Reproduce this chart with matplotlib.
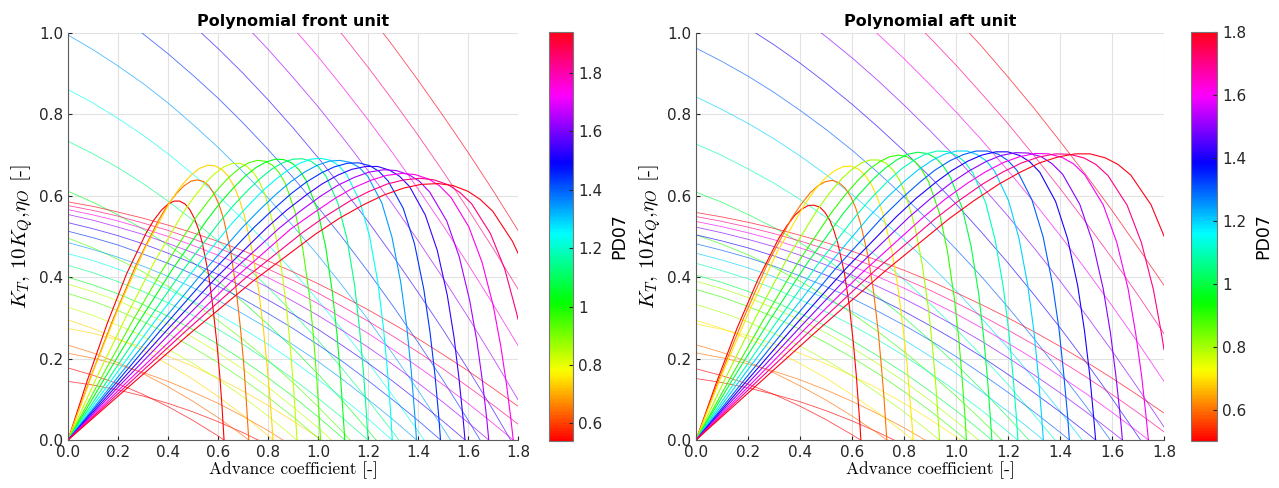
import numpy as np
import matplotlib
matplotlib.use('Agg')
import matplotlib.pyplot as plt
from matplotlib.colors import Normalize
from matplotlib.cm import ScalarMappable
from matplotlib.ticker import FuncFormatter

plt.rcParams['mathtext.fontset'] = 'cm'

# advance coefficient grid used for the thrust and torque curves
J_grid = [0.0, 0.1, 0.2, 0.3, 0.4, 0.5, 0.6, 0.7, 0.8, 0.9,
          1.0, 1.1, 1.2, 1.3, 1.4, 1.5, 1.6, 1.7, 1.8]

# ---------------- front unit ----------------
pd_front = [0.54, 0.64, 0.74, 0.84, 0.94, 1.04, 1.14, 1.24, 1.34, 1.44, 1.54, 1.64, 1.74, 1.84, 1.94]

kt_front = [
    [0.177, 0.159, 0.138, 0.112, 0.082, 0.048, 0.010, -0.032],
    [0.233, 0.214, 0.190, 0.163, 0.131, 0.095, 0.055, 0.011, -0.038],
    [0.295, 0.274, 0.249, 0.220, 0.186, 0.149, 0.107, 0.061, 0.011, -0.044],
    [0.326, 0.306, 0.282, 0.255, 0.223, 0.188, 0.149, 0.106, 0.059, 0.008, -0.046],
    [0.360, 0.341, 0.318, 0.291, 0.261, 0.227, 0.190, 0.149, 0.105, 0.057, 0.005, -0.050],
    [0.400, 0.381, 0.359, 0.333, 0.304, 0.271, 0.235, 0.196, 0.153, 0.107, 0.057, 0.004, -0.053],
    [0.429, 0.411, 0.389, 0.365, 0.337, 0.306, 0.272, 0.235, 0.194, 0.150, 0.103, 0.053, 0.000, -0.056],
    [0.458, 0.441, 0.420, 0.397, 0.370, 0.341, 0.309, 0.273, 0.235, 0.194, 0.149, 0.102, 0.052, -0.002],
    [0.485, 0.468, 0.449, 0.427, 0.402, 0.374, 0.343, 0.310, 0.274, 0.234, 0.193, 0.148, 0.100, 0.050, -0.003],
    [0.513, 0.497, 0.479, 0.457, 0.434, 0.407, 0.378, 0.346, 0.311, 0.274, 0.234, 0.192, 0.146, 0.098, 0.048, -0.005],
    [0.534, 0.519, 0.502, 0.482, 0.459, 0.434, 0.407, 0.377, 0.344, 0.309, 0.272, 0.231, 0.189, 0.144, 0.096, 0.046, -0.006],
    [0.554, 0.540, 0.523, 0.505, 0.483, 0.460, 0.434, 0.405, 0.375, 0.341, 0.306, 0.268, 0.228, 0.185, 0.140, 0.093, 0.043, -0.009],
    [0.566, 0.553, 0.538, 0.520, 0.500, 0.478, 0.454, 0.427, 0.399, 0.368, 0.335, 0.299, 0.262, 0.222, 0.180, 0.136, 0.090, 0.041, -0.010],
    [0.576, 0.564, 0.550, 0.533, 0.515, 0.494, 0.472, 0.447, 0.420, 0.392, 0.361, 0.327, 0.292, 0.255, 0.216, 0.175, 0.131, 0.086, 0.039],
    [0.585, 0.574, 0.560, 0.545, 0.528, 0.509, 0.488, 0.465, 0.440, 0.413, 0.384, 0.353, 0.320, 0.285, 0.249, 0.210, 0.170, 0.127, 0.083],
]

kq10_front = [
    [0.144, 0.135, 0.123, 0.108, 0.090, 0.069, 0.045, 0.018, -0.012],
    [0.213, 0.201, 0.185, 0.166, 0.144, 0.118, 0.090, 0.058, 0.023, -0.016],
    [0.274, 0.262, 0.246, 0.228, 0.206, 0.181, 0.152, 0.120, 0.085, 0.047, 0.006, -0.039],
    [0.383, 0.364, 0.342, 0.315, 0.285, 0.252, 0.215, 0.174, 0.130, 0.081, 0.030, -0.026],
    [0.496, 0.472, 0.444, 0.413, 0.377, 0.338, 0.294, 0.247, 0.196, 0.141, 0.082, 0.019, -0.048],
    [0.611, 0.584, 0.553, 0.518, 0.479, 0.436, 0.390, 0.339, 0.284, 0.225, 0.162, 0.095, 0.024, -0.050],
    [0.734, 0.703, 0.669, 0.630, 0.587, 0.540, 0.489, 0.434, 0.375, 0.312, 0.245, 0.173, 0.098, 0.019, -0.065],
    [0.861, 0.828, 0.790, 0.749, 0.703, 0.653, 0.600, 0.542, 0.480, 0.414, 0.343, 0.269, 0.191, 0.108, 0.022, -0.069],
    [0.995, 0.959, 0.919, 0.876, 0.828, 0.775, 0.719, 0.659, 0.595, 0.526, 0.454, 0.377, 0.296, 0.211, 0.122, 0.029, -0.068],
    [1.120, 1.083, 1.043, 0.998, 0.949, 0.896, 0.840, 0.779, 0.714, 0.645, 0.572, 0.495, 0.414, 0.329, 0.240, 0.147, 0.049, -0.052],
    [1.245, 1.208, 1.166, 1.121, 1.072, 1.019, 0.962, 0.901, 0.836, 0.767, 0.694, 0.617, 0.537, 0.452, 0.363, 0.271, 0.174, 0.074, -0.031],
    [1.370, 1.332, 1.291, 1.245, 1.196, 1.143, 1.086, 1.025, 0.960, 0.891, 0.819, 0.742, 0.662, 0.578, 0.490, 0.398, 0.302, 0.202, 0.099],
    [1.490, 1.452, 1.410, 1.365, 1.316, 1.263, 1.206, 1.146, 1.081, 1.013, 0.942, 0.866, 0.787, 0.704, 0.617, 0.527, 0.432, 0.334, 0.232],
    [1.610, 1.572, 1.531, 1.486, 1.437, 1.385, 1.329, 1.269, 1.206, 1.139, 1.068, 0.994, 0.916, 0.834, 0.749, 0.660, 0.567, 0.471, 0.371],
    [1.730, 1.693, 1.652, 1.607, 1.559, 1.508, 1.453, 1.394, 1.332, 1.266, 1.197, 1.124, 1.048, 0.968, 0.884, 0.797, 0.707, 0.613, 0.515],
]

# efficiency curves, sampled more densely around the peak and where KT reaches zero
eta_J_front = [
    [0, 0.078, 0.156, 0.234, 0.312, 0.343, 0.374, 0.399, 0.424, 0.446, 0.468, 0.487, 0.505, 0.521, 0.537, 0.562, 0.580, 0.596, 0.607, 0.615, 0.621, 0.624],
    [0, 0.090, 0.181, 0.271, 0.362, 0.398, 0.434, 0.463, 0.492, 0.517, 0.542, 0.564, 0.586, 0.604, 0.622, 0.651, 0.672, 0.690, 0.703, 0.712, 0.719, 0.723],
    [0, 0.102, 0.205, 0.308, 0.410, 0.451, 0.492, 0.525, 0.558, 0.586, 0.615, 0.640, 0.664, 0.685, 0.705, 0.738, 0.763, 0.783, 0.797, 0.808, 0.816, 0.820],
    [0, 0.114, 0.229, 0.344, 0.458, 0.504, 0.550, 0.586, 0.623, 0.655, 0.687, 0.714, 0.742, 0.765, 0.788, 0.824, 0.852, 0.875, 0.890, 0.902, 0.911, 0.916],
    [0, 0.126, 0.252, 0.379, 0.505, 0.556, 0.606, 0.646, 0.687, 0.722, 0.758, 0.788, 0.818, 0.843, 0.869, 0.909, 0.939, 0.965, 0.982, 0.995, 1.005, 1.010],
    [0, 0.138, 0.277, 0.415, 0.554, 0.609, 0.664, 0.708, 0.753, 0.792, 0.830, 0.863, 0.897, 0.924, 0.952, 0.997, 1.030, 1.057, 1.076, 1.090, 1.101, 1.107],
    [0, 0.150, 0.300, 0.450, 0.600, 0.660, 0.720, 0.768, 0.816, 0.858, 0.900, 0.936, 0.972, 1.002, 1.032, 1.080, 1.116, 1.146, 1.166, 1.182, 1.194, 1.200],
    [0, 0.162, 0.324, 0.486, 0.648, 0.713, 0.778, 0.830, 0.882, 0.927, 0.973, 1.012, 1.051, 1.083, 1.115, 1.167, 1.206, 1.239, 1.261, 1.278, 1.291, 1.297],
    [0, 0.174, 0.348, 0.523, 0.697, 0.767, 0.836, 0.892, 0.948, 0.997, 1.045, 1.087, 1.129, 1.164, 1.199, 1.255, 1.296, 1.331, 1.355, 1.373, 1.387, 1.394],
    [0, 0.186, 0.372, 0.559, 0.745, 0.820, 0.894, 0.954, 1.013, 1.065, 1.118, 1.162, 1.207, 1.244, 1.281, 1.341, 1.386, 1.423, 1.448, 1.468, 1.483, 1.490],
    [0, 0.198, 0.397, 0.596, 0.794, 0.873, 0.953, 1.016, 1.080, 1.135, 1.191, 1.239, 1.286, 1.326, 1.366, 1.429, 1.477, 1.517, 1.544, 1.564, 1.580, 1.588],
    [0, 0.210, 0.421, 0.631, 0.842, 0.926, 1.010, 1.077, 1.144, 1.203, 1.262, 1.313, 1.363, 1.405, 1.447, 1.515, 1.565, 1.607, 1.636, 1.658, 1.675, 1.683],
    [0, 0.223, 0.445, 0.668, 0.890, 0.980, 1.069, 1.140, 1.211, 1.273, 1.336, 1.389, 1.443, 1.487, 1.532, 1.603, 1.656, 1.701, 1.731, 1.754, 1.772, 1.781],
    [0, 0.235, 0.470, 0.704, 0.939, 1.033, 1.127, 1.202, 1.277, 1.343, 1.408, 1.465, 1.521, 1.568, 1.615, 1.690, 1.747, 1.793, 1.800],
    [0, 0.247, 0.494, 0.741, 0.988, 1.086, 1.185, 1.264, 1.343, 1.412, 1.481, 1.541, 1.600, 1.649, 1.699, 1.778, 1.800],
]

eta_front = [
    [0, 0.148, 0.285, 0.408, 0.508, 0.540, 0.565, 0.579, 0.587, 0.587, 0.580, 0.566, 0.545, 0.519, 0.485, 0.407, 0.324, 0.234, 0.158, 0.091, 0.032, 0],
    [0, 0.154, 0.298, 0.429, 0.540, 0.577, 0.606, 0.624, 0.636, 0.639, 0.635, 0.624, 0.603, 0.578, 0.544, 0.462, 0.373, 0.273, 0.186, 0.107, 0.038, 0],
    [0, 0.171, 0.329, 0.471, 0.587, 0.623, 0.651, 0.667, 0.675, 0.674, 0.665, 0.649, 0.623, 0.592, 0.552, 0.461, 0.367, 0.264, 0.178, 0.101, 0.036, 0],
    [0, 0.153, 0.299, 0.436, 0.556, 0.597, 0.632, 0.654, 0.671, 0.679, 0.680, 0.673, 0.657, 0.635, 0.603, 0.523, 0.430, 0.320, 0.222, 0.130, 0.047, 0],
    [0, 0.145, 0.286, 0.419, 0.541, 0.583, 0.621, 0.647, 0.668, 0.681, 0.687, 0.685, 0.675, 0.658, 0.631, 0.559, 0.470, 0.358, 0.253, 0.151, 0.055, 0],
    [0, 0.143, 0.284, 0.417, 0.539, 0.583, 0.621, 0.648, 0.670, 0.683, 0.690, 0.689, 0.680, 0.664, 0.638, 0.567, 0.477, 0.365, 0.259, 0.155, 0.057, 0],
    [0, 0.139, 0.276, 0.409, 0.531, 0.575, 0.614, 0.642, 0.666, 0.681, 0.690, 0.691, 0.685, 0.671, 0.648, 0.581, 0.494, 0.382, 0.274, 0.165, 0.061, 0],
    [0, 0.137, 0.273, 0.405, 0.527, 0.571, 0.612, 0.640, 0.664, 0.680, 0.690, 0.692, 0.687, 0.674, 0.652, 0.587, 0.501, 0.389, 0.280, 0.169, 0.063, 0],
    [0, 0.135, 0.270, 0.400, 0.522, 0.566, 0.606, 0.635, 0.659, 0.675, 0.685, 0.687, 0.682, 0.670, 0.648, 0.583, 0.498, 0.387, 0.278, 0.169, 0.062, 0],
    [0, 0.136, 0.271, 0.402, 0.523, 0.566, 0.606, 0.634, 0.656, 0.671, 0.680, 0.681, 0.674, 0.660, 0.636, 0.569, 0.482, 0.371, 0.265, 0.159, 0.058, 0],
    [0, 0.136, 0.271, 0.401, 0.521, 0.564, 0.602, 0.629, 0.651, 0.665, 0.672, 0.672, 0.663, 0.648, 0.623, 0.553, 0.466, 0.356, 0.253, 0.151, 0.055, 0],
    [0, 0.136, 0.270, 0.400, 0.519, 0.561, 0.599, 0.625, 0.645, 0.658, 0.664, 0.662, 0.652, 0.636, 0.609, 0.538, 0.450, 0.342, 0.241, 0.143, 0.052, 0],
    [0, 0.135, 0.265, 0.398, 0.518, 0.557, 0.594, 0.619, 0.638, 0.650, 0.655, 0.652, 0.641, 0.624, 0.596, 0.524, 0.437, 0.330, 0.231, 0.137, 0.049, 0],
    [0, 0.134, 0.267, 0.395, 0.510, 0.551, 0.587, 0.610, 0.629, 0.639, 0.643, 0.639, 0.627, 0.608, 0.580, 0.507, 0.420, 0.315, 0.297],
    [0, 0.133, 0.265, 0.391, 0.505, 0.545, 0.579, 0.602, 0.619, 0.628, 0.630, 0.625, 0.611, 0.591, 0.562, 0.488, 0.459],
]

# ---------------- aft unit ----------------
pd_aft = [0.5, 0.6, 0.7, 0.8, 0.9, 1.0, 1.1, 1.2, 1.3, 1.4, 1.5, 1.6, 1.7, 1.8]

kt_aft = [
    [0.175, 0.158, 0.137, 0.112, 0.083, 0.050, 0.013, -0.027],
    [0.234, 0.215, 0.192, 0.165, 0.133, 0.098, 0.059, 0.016, -0.032],
    [0.294, 0.274, 0.249, 0.221, 0.188, 0.152, 0.111, 0.067, 0.018, -0.035],
    [0.333, 0.313, 0.290, 0.262, 0.231, 0.196, 0.158, 0.115, 0.069, 0.019, -0.034],
    [0.370, 0.351, 0.328, 0.302, 0.272, 0.239, 0.203, 0.163, 0.119, 0.072, 0.021, -0.033],
    [0.405, 0.387, 0.365, 0.340, 0.311, 0.280, 0.245, 0.206, 0.165, 0.120, 0.072, 0.020, -0.034],
    [0.434, 0.416, 0.396, 0.372, 0.345, 0.315, 0.282, 0.246, 0.207, 0.165, 0.120, 0.072, 0.020, -0.034],
    [0.459, 0.442, 0.423, 0.401, 0.375, 0.347, 0.316, 0.282, 0.246, 0.206, 0.164, 0.118, 0.070, 0.019, -0.035],
    [0.482, 0.466, 0.448, 0.427, 0.403, 0.377, 0.348, 0.316, 0.282, 0.245, 0.205, 0.162, 0.117, 0.069, 0.019, -0.034],
    [0.504, 0.489, 0.472, 0.452, 0.430, 0.405, 0.378, 0.348, 0.316, 0.281, 0.244, 0.204, 0.161, 0.116, 0.069, 0.019, -0.033],
    [0.523, 0.509, 0.493, 0.475, 0.454, 0.430, 0.405, 0.377, 0.347, 0.314, 0.279, 0.242, 0.202, 0.160, 0.116, 0.069, 0.020, -0.031],
    [0.537, 0.524, 0.509, 0.492, 0.472, 0.451, 0.427, 0.401, 0.373, 0.342, 0.310, 0.275, 0.238, 0.199, 0.157, 0.114, 0.068, 0.020, -0.030],
    [0.549, 0.537, 0.523, 0.507, 0.489, 0.469, 0.447, 0.422, 0.396, 0.368, 0.337, 0.305, 0.270, 0.234, 0.195, 0.155, 0.112, 0.067, 0.020],
    [0.559, 0.548, 0.535, 0.520, 0.503, 0.485, 0.464, 0.441, 0.417, 0.391, 0.362, 0.332, 0.300, 0.266, 0.230, 0.192, 0.152, 0.110, 0.066],
]

kq10_aft = [
    [0.151, 0.141, 0.128, 0.112, 0.094, 0.072, 0.047, 0.019, -0.012],
    [0.214, 0.202, 0.187, 0.169, 0.148, 0.123, 0.095, 0.064, 0.030, -0.007],
    [0.285, 0.272, 0.256, 0.236, 0.213, 0.187, 0.158, 0.126, 0.090, 0.051, 0.008, -0.038],
    [0.390, 0.372, 0.350, 0.324, 0.295, 0.263, 0.227, 0.187, 0.144, 0.097, 0.046, -0.007],
    [0.504, 0.481, 0.455, 0.424, 0.390, 0.353, 0.311, 0.266, 0.217, 0.164, 0.108, 0.048, -0.016],
    [0.609, 0.584, 0.554, 0.522, 0.485, 0.444, 0.400, 0.352, 0.301, 0.245, 0.186, 0.123, 0.056, -0.014],
    [0.727, 0.699, 0.666, 0.631, 0.591, 0.547, 0.500, 0.449, 0.394, 0.335, 0.273, 0.206, 0.136, 0.062, -0.015],
    [0.843, 0.812, 0.778, 0.740, 0.698, 0.652, 0.603, 0.549, 0.492, 0.431, 0.367, 0.298, 0.226, 0.150, 0.071, -0.013],
    [0.963, 0.930, 0.894, 0.854, 0.810, 0.763, 0.712, 0.657, 0.598, 0.536, 0.469, 0.400, 0.326, 0.249, 0.167, 0.083, -0.006],
    [1.083, 1.049, 1.012, 0.971, 0.926, 0.877, 0.825, 0.769, 0.710, 0.647, 0.580, 0.509, 0.435, 0.357, 0.276, 0.191, 0.102, 0.009, -0.087],
    [1.200, 1.165, 1.127, 1.086, 1.040, 0.991, 0.939, 0.883, 0.823, 0.760, 0.694, 0.623, 0.550, 0.472, 0.391, 0.307, 0.219, 0.127, 0.032],
    [1.320, 1.284, 1.245, 1.202, 1.156, 1.107, 1.054, 0.997, 0.937, 0.873, 0.806, 0.736, 0.662, 0.584, 0.503, 0.418, 0.330, 0.239, 0.144],
    [1.440, 1.403, 1.363, 1.320, 1.273, 1.223, 1.169, 1.112, 1.052, 0.988, 0.921, 0.850, 0.777, 0.699, 0.618, 0.534, 0.447, 0.356, 0.261],
    [1.560, 1.522, 1.482, 1.438, 1.390, 1.339, 1.285, 1.228, 1.167, 1.104, 1.036, 0.966, 0.892, 0.815, 0.734, 0.651, 0.564, 0.473, 0.380],
]

eta_J_aft = [
    [0, 0.079, 0.158, 0.238, 0.317, 0.349, 0.380, 0.406, 0.431, 0.453, 0.476, 0.495, 0.514, 0.529, 0.545, 0.571, 0.590, 0.605, 0.616, 0.624, 0.631, 0.634],
    [0, 0.092, 0.184, 0.275, 0.367, 0.404, 0.440, 0.470, 0.499, 0.525, 0.550, 0.573, 0.595, 0.613, 0.631, 0.661, 0.683, 0.701, 0.713, 0.723, 0.730, 0.734],
    [0, 0.104, 0.209, 0.313, 0.418, 0.459, 0.501, 0.534, 0.568, 0.597, 0.626, 0.651, 0.676, 0.697, 0.718, 0.752, 0.777, 0.797, 0.812, 0.822, 0.831, 0.835],
    [0, 0.117, 0.234, 0.351, 0.468, 0.515, 0.562, 0.600, 0.637, 0.670, 0.703, 0.731, 0.759, 0.782, 0.806, 0.843, 0.871, 0.895, 0.911, 0.923, 0.932, 0.937],
    [0, 0.130, 0.260, 0.390, 0.520, 0.572, 0.624, 0.666, 0.707, 0.744, 0.780, 0.811, 0.842, 0.868, 0.894, 0.936, 0.967, 0.993, 1.011, 1.024, 1.035, 1.040],
    [0, 0.142, 0.284, 0.427, 0.569, 0.626, 0.683, 0.728, 0.774, 0.814, 0.853, 0.888, 0.922, 0.950, 0.979, 1.024, 1.058, 1.087, 1.106, 1.121, 1.132, 1.138],
    [0, 0.155, 0.310, 0.464, 0.619, 0.681, 0.743, 0.792, 0.842, 0.885, 0.928, 0.966, 1.003, 1.034, 1.065, 1.114, 1.151, 1.182, 1.203, 1.219, 1.232, 1.238],
    [0, 0.167, 0.334, 0.501, 0.668, 0.735, 0.802, 0.855, 0.908, 0.955, 1.002, 1.042, 1.082, 1.116, 1.149, 1.202, 1.242, 1.276, 1.299, 1.316, 1.329, 1.336],
    [0, 0.180, 0.359, 0.538, 0.718, 0.790, 0.862, 0.919, 0.976, 1.027, 1.077, 1.120, 1.163, 1.199, 1.235, 1.292, 1.335, 1.371, 1.396, 1.414, 1.429, 1.436],
    [0, 0.192, 0.384, 0.576, 0.768, 0.845, 0.922, 0.984, 1.045, 1.099, 1.153, 1.199, 1.245, 1.283, 1.322, 1.383, 1.429, 1.468, 1.494, 1.514, 1.529, 1.537],
    [0, 0.205, 0.410, 0.615, 0.820, 0.902, 0.984, 1.050, 1.115, 1.173, 1.230, 1.279, 1.328, 1.369, 1.410, 1.476, 1.525, 1.566, 1.594, 1.615, 1.632, 1.640],
    [0, 0.218, 0.435, 0.652, 0.870, 0.957, 1.044, 1.114, 1.183, 1.244, 1.305, 1.357, 1.409, 1.453, 1.496, 1.566, 1.618, 1.662, 1.691, 1.714, 1.731, 1.740],
    [0, 0.230, 0.460, 0.691, 0.921, 1.013, 1.105, 1.179, 1.253, 1.317, 1.382, 1.437, 1.492, 1.538, 1.584, 1.658, 1.713, 1.759, 1.790, 1.800],
    [0, 0.243, 0.486, 0.729, 0.972, 1.069, 1.166, 1.244, 1.322, 1.390, 1.458, 1.516, 1.575, 1.623, 1.672, 1.750, 1.800],
]

eta_aft = [
    [0, 0.142, 0.275, 0.394, 0.494, 0.526, 0.552, 0.567, 0.576, 0.577, 0.572, 0.560, 0.541, 0.517, 0.484, 0.409, 0.328, 0.239, 0.162, 0.093, 0.033, 0],
    [0, 0.156, 0.301, 0.433, 0.544, 0.579, 0.608, 0.625, 0.635, 0.638, 0.632, 0.619, 0.598, 0.572, 0.536, 0.454, 0.364, 0.265, 0.180, 0.104, 0.037, 0],
    [0, 0.167, 0.323, 0.463, 0.579, 0.616, 0.646, 0.662, 0.672, 0.673, 0.665, 0.650, 0.626, 0.596, 0.557, 0.469, 0.374, 0.270, 0.183, 0.105, 0.037, 0],
    [0, 0.157, 0.307, 0.446, 0.567, 0.608, 0.643, 0.665, 0.681, 0.688, 0.688, 0.680, 0.662, 0.639, 0.605, 0.522, 0.427, 0.317, 0.219, 0.128, 0.046, 0],
    [0, 0.150, 0.296, 0.434, 0.558, 0.601, 0.639, 0.665, 0.684, 0.696, 0.700, 0.696, 0.684, 0.664, 0.635, 0.558, 0.464, 0.350, 0.246, 0.146, 0.053, 0],
    [0, 0.150, 0.295, 0.434, 0.559, 0.603, 0.642, 0.668, 0.689, 0.702, 0.707, 0.704, 0.693, 0.674, 0.645, 0.569, 0.476, 0.360, 0.254, 0.151, 0.055, 0],
    [0, 0.147, 0.290, 0.428, 0.554, 0.599, 0.639, 0.667, 0.689, 0.703, 0.710, 0.709, 0.699, 0.683, 0.656, 0.583, 0.490, 0.375, 0.266, 0.159, 0.058, 0],
    [0, 0.145, 0.287, 0.424, 0.550, 0.596, 0.636, 0.664, 0.687, 0.702, 0.710, 0.710, 0.701, 0.686, 0.660, 0.588, 0.496, 0.380, 0.270, 0.162, 0.059, 0],
    [0, 0.143, 0.285, 0.422, 0.548, 0.593, 0.634, 0.663, 0.686, 0.701, 0.710, 0.710, 0.702, 0.687, 0.662, 0.590, 0.499, 0.383, 0.273, 0.164, 0.060, 0],
    [0, 0.143, 0.284, 0.421, 0.547, 0.593, 0.633, 0.662, 0.685, 0.700, 0.708, 0.708, 0.699, 0.684, 0.658, 0.586, 0.495, 0.379, 0.269, 0.161, 0.059, 0],
    [0, 0.143, 0.284, 0.422, 0.548, 0.593, 0.633, 0.661, 0.684, 0.699, 0.706, 0.705, 0.696, 0.679, 0.653, 0.579, 0.487, 0.372, 0.263, 0.157, 0.057, 0],
    [0, 0.142, 0.283, 0.419, 0.545, 0.591, 0.631, 0.659, 0.682, 0.696, 0.704, 0.703, 0.694, 0.678, 0.651, 0.578, 0.486, 0.371, 0.262, 0.157, 0.057, 0],
    [0, 0.141, 0.281, 0.418, 0.544, 0.589, 0.630, 0.658, 0.681, 0.695, 0.703, 0.702, 0.693, 0.677, 0.650, 0.577, 0.485, 0.370, 0.262, 0.222],
    [0, 0.140, 0.280, 0.416, 0.543, 0.588, 0.629, 0.657, 0.681, 0.695, 0.703, 0.703, 0.693, 0.677, 0.651, 0.578, 0.501],
]


def open_water_panel(rect, cbar_rect, pd, kt, kq10, eta_J, eta, title):
    ax = fig.add_axes(rect)
    cmap = plt.get_cmap('hsv')
    norm = Normalize(min(pd), max(pd))
    for i, p in enumerate(pd):
        col = cmap(norm(p))
        ax.plot(J_grid[:len(kq10[i])], kq10[i], color=col, lw=0.6, alpha=0.7)
        ax.plot(J_grid[:len(kt[i])], kt[i], color=col, lw=0.6, alpha=0.7)
    for i, p in enumerate(pd):
        ax.plot(eta_J[i], eta[i], color=cmap(norm(p)), lw=0.8)

    ax.set_xlim(0, 1.8)
    ax.set_ylim(0, 1)
    ax.set_xticks(np.arange(0, 1.81, 0.2))
    ax.set_yticks(np.arange(0, 1.01, 0.2))
    ax.xaxis.set_major_formatter(FuncFormatter(lambda v, pos: '%.1f' % v))
    ax.yaxis.set_major_formatter(FuncFormatter(lambda v, pos: '%.1f' % v))
    ax.grid(True, color='#e2e2e2', lw=0.8)
    ax.set_axisbelow(True)
    ax.spines['top'].set_visible(False)
    ax.spines['right'].set_visible(False)
    ax.spines['left'].set_color('#5a5a5a')
    ax.spines['bottom'].set_color('#5a5a5a')
    ax.tick_params(direction='in', length=3, labelsize=11, colors='#262626')
    ax.set_title(title, fontsize=11.5, fontweight='bold', pad=5)
    ax.set_xlabel('Advance coefficient [-]', family='cmr10', fontsize=12.5, labelpad=1)
    ax.set_ylabel(r'$K_T$, $10K_Q$,$\eta_O$ [-]', family='cmr10', fontsize=15, labelpad=3)

    cax = fig.add_axes(cbar_rect)
    cb = fig.colorbar(ScalarMappable(norm=norm, cmap=cmap), cax=cax)
    cb.set_ticks([0.6, 0.8, 1.0, 1.2, 1.4, 1.6, 1.8])
    cb.ax.yaxis.set_major_formatter(FuncFormatter(lambda v, pos: '%g' % round(v, 2)))
    cb.ax.tick_params(direction='in', length=3, labelsize=11, colors='#262626')
    cb.outline.set_edgecolor('#777777')
    cb.set_label('PD07', fontsize=12.5, labelpad=6)
    return ax


fig = plt.figure(figsize=(12.79, 4.88), dpi=100)
open_water_panel([0.0532, 0.0984, 0.3518, 0.834], [0.4292, 0.0963, 0.0188, 0.838],
                 pd_front, kt_front, kq10_front, eta_J_front, eta_front, 'Polynomial front unit')
open_water_panel([0.5442, 0.0984, 0.3659, 0.834], [0.9312, 0.0963, 0.0203, 0.838],
                 pd_aft, kt_aft, kq10_aft, eta_J_aft, eta_aft, 'Polynomial aft unit')
fig.savefig('out.png', dpi=100)
